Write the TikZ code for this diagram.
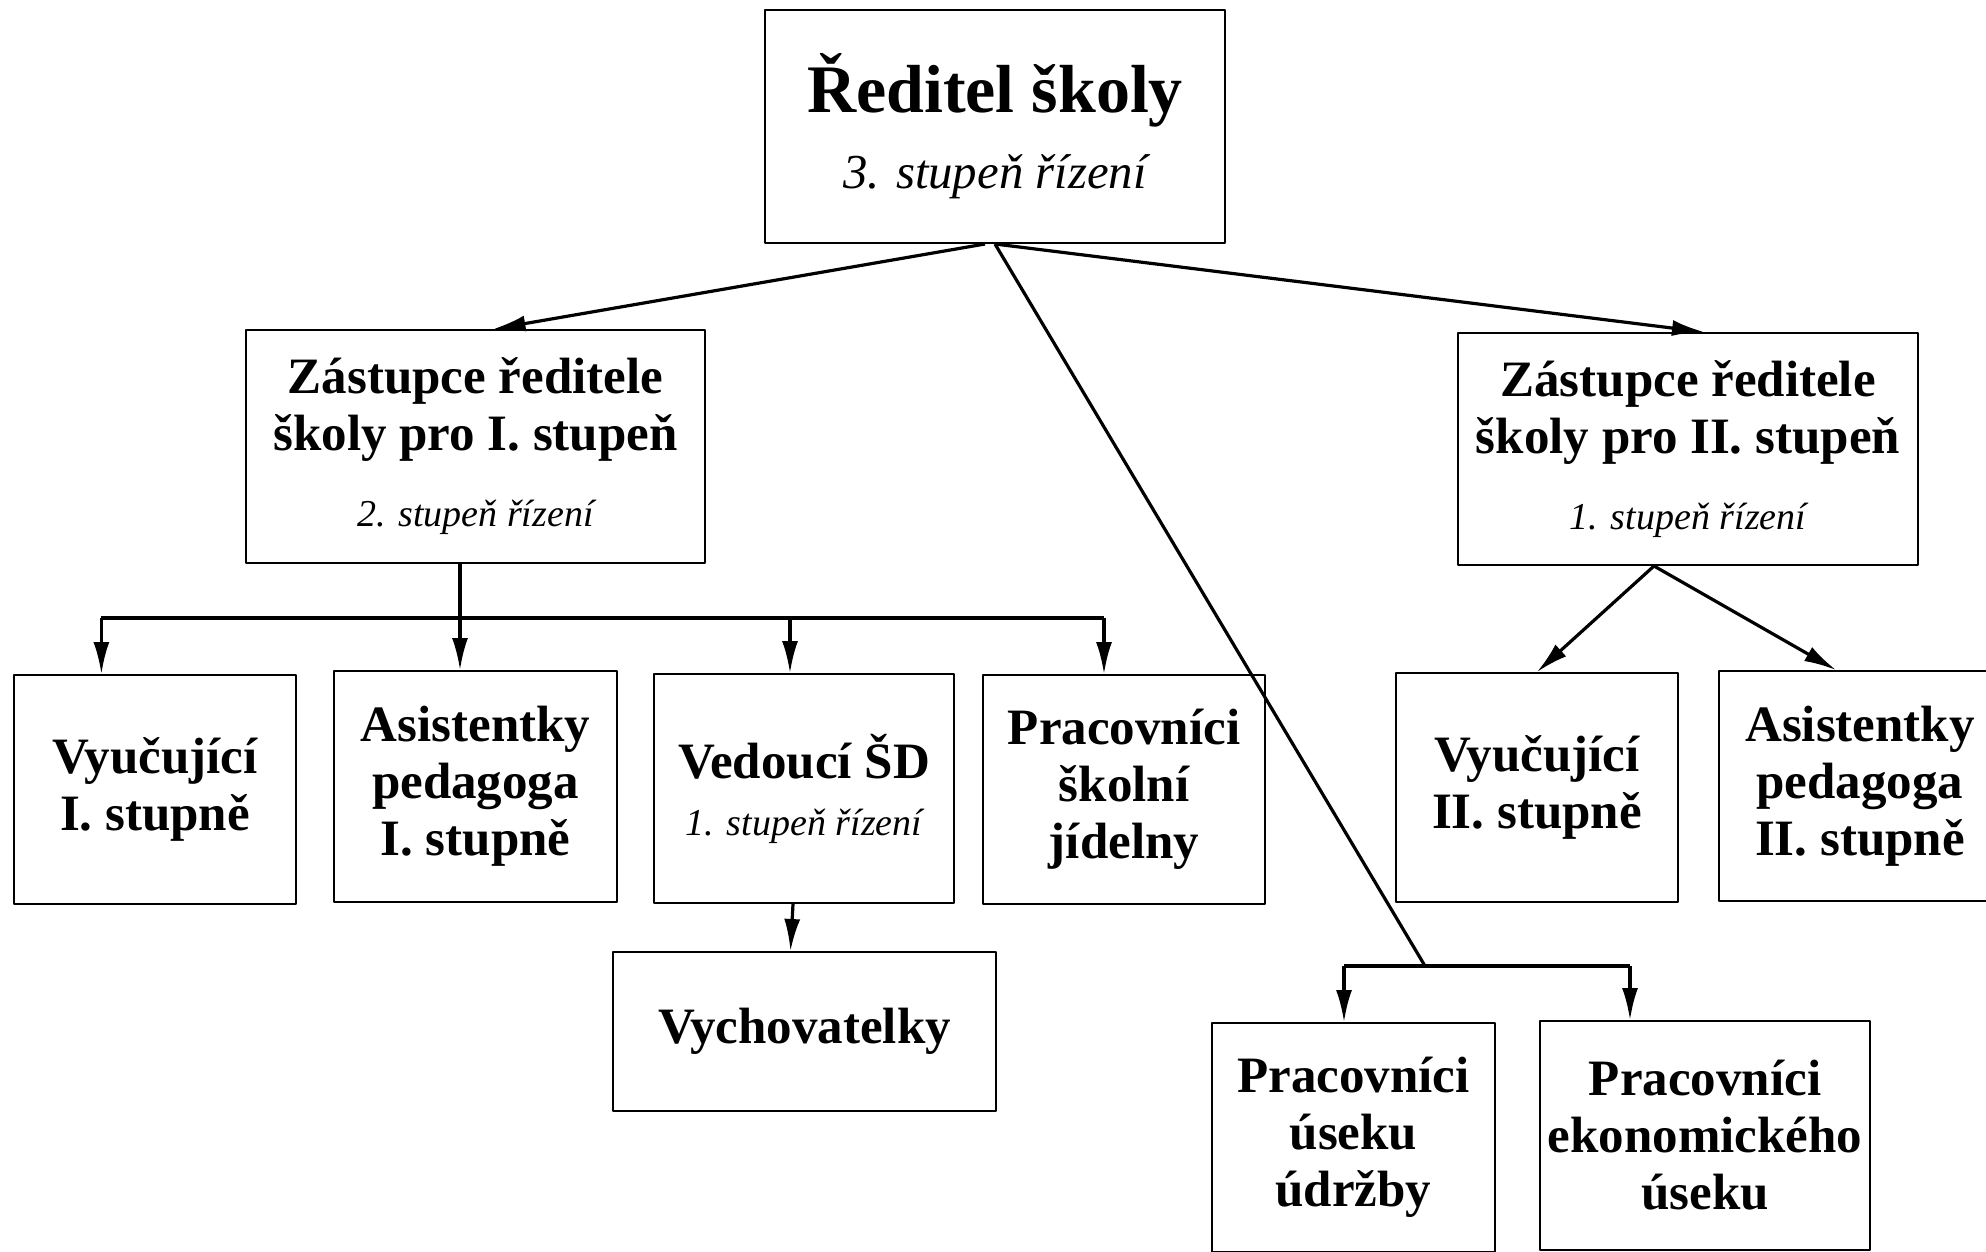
\documentclass[tikz,border=0pt]{standalone}
\usepackage{fontspec}
\setmainfont{Liberation Serif}
\usetikzlibrary{calc,arrows.meta}

\tikzset{
  box/.style={draw, line width=1pt, inner sep=0pt, align=center,
    font=\bfseries\fontsize{25.5}{28.5}\selectfont},
  link/.style={line width=1.6pt},
  bar/.style={line width=2pt},
}
\newcommand{\stupen}[2]{{\mdseries\itshape\fontsize{#2}{#2}\selectfont #1. stupeň řízení}}

\begin{document}
\begin{tikzpicture}[>={Latex[length=16pt,width=8pt]}, line join=bevel]
  \useasboundingbox (0pt,0pt) rectangle (993pt,-626pt);
  %%
  % Node: reditel
  \node[box, minimum width=230pt, minimum height=116.5pt,
    font=\bfseries\fontsize{34}{38}\selectfont] (reditel) at (497.5pt,-63.25pt)
    {Ředitel školy\\\stupen{3}{24.4}};
  % Node: zast1
  \node[box, minimum width=229.5pt, minimum height=116.5pt] (zast1) at (237.75pt,-223.25pt)
    {Zástupce ředitele\\školy pro I. stupeň\\[9.5pt]\stupen{2}{19}};
  % Node: zast2
  \node[box, minimum width=230pt, minimum height=116pt] (zast2) at (844pt,-224.5pt)
    {Zástupce ředitele\\školy pro II. stupeň\\[9.5pt]\stupen{1}{19}};
  % Node: vyuc1
  \node[box, minimum width=141pt, minimum height=114.5pt] (vyuc1) at (77.5pt,-394.75pt)
    {Vyučující\\I. stupně};
  % Node: asist1
  \node[box, minimum width=141.5pt, minimum height=115.5pt] (asist1) at (237.75pt,-393.25pt)
    {Asistentky\\pedagoga\\I. stupně};
  % Node: vedouci
  \node[box, minimum width=150pt, minimum height=114.5pt] (vedouci) at (402pt,-394.25pt)
    {Vedoucí ŠD\\\stupen{1}{19}};
  % Node: pracsj
  \node[box, minimum width=141pt, minimum height=114.5pt] (pracsj) at (562pt,-394.75pt)
    {Pracovníci\\školní\\jídelny};
  % Node: vychov
  \node[box, minimum width=191.5pt, minimum height=79.5pt] (vychov) at (402.25pt,-515.75pt)
    {Vychovatelky};
  % Node: vyuc2
  \node[box, minimum width=141pt, minimum height=114.5pt] (vyuc2) at (768.5pt,-393.75pt)
    {Vyučující\\II. stupně};
  % Node: asist2
  \node[box, minimum width=141pt, minimum height=115pt] (asist2) at (930pt,-393pt)
    {Asistentky\\pedagoga\\II. stupně};
  % Node: pracud
  \node[box, minimum width=141.5pt, minimum height=114.5pt] (pracud) at (676.75pt,-568.75pt)
    {Pracovníci\\úseku\\údržby};
  % Node: pracek
  \node[box, minimum width=165pt, minimum height=114.5pt] (pracek) at (852.5pt,-567.75pt)
    {Pracovníci\\ekonomického\\úseku};
  %%
  % Edge: reditel -> zast1
  \draw[link,->] ($(reditel.south)+(-5pt,0)$) -- ($(zast1.north)+(9pt,0)$);
  % Edge: reditel -> zast2
  \draw[link,->] (reditel.south) -- ($(zast2.north)+(8pt,0)$);
  % Edge: reditel -> pracud, pracek
  \coordinate (usek) at (712.5pt,-483pt);
  \coordinate (usekL) at (672pt,-483pt);
  \coordinate (usekR) at (815pt,-483pt);
  \draw[link] (reditel.south) -- (usek);
  \draw[bar] (usekL) -- (usekR);
  \draw[link,->] (usekL) -- (usekL |- pracud.north);
  \draw[link,->] (usekR) -- (usekR |- pracek.north);
  % Edge: zast1 -> vyuc1, asist1, vedouci, pracsj
  \coordinate (barL) at (50.7pt,-309pt);
  \coordinate (barV) at (395pt,-309pt);
  \coordinate (barR) at (552pt,-309pt);
  \draw[bar] (barL) -- (barR);
  \draw[link,->] ($(zast1.south)+(-7.75pt,0)$) -- ($(asist1.north)+(-7.75pt,0)$);
  \draw[link,->] (barL) -- (barL |- vyuc1.north);
  \draw[link,->] (barV) -- (barV |- vedouci.north);
  \draw[link,->] (barR) -- (barR |- pracsj.north);
  % Edge: vedouci -> vychov
  \draw[link,->] ($(vedouci.south)+(-5.5pt,0)$) -- ($(vychov.north)+(-7pt,0)$);
  % Edge: zast2 -> vyuc2, asist2
  \draw[link,->] ($(zast2.south)+(-17pt,0)$) -- (vyuc2.north);
  \draw[link,->] ($(zast2.south)+(-17pt,0)$) -- ($(asist2.north)+(-12pt,0)$);
  %
\end{tikzpicture}
\end{document}
